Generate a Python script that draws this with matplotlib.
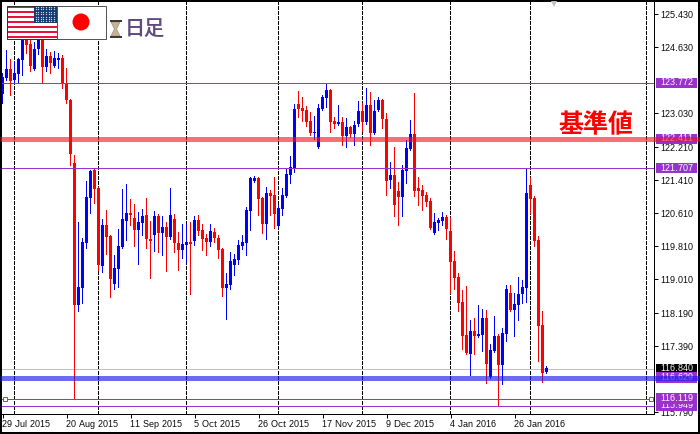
import numpy as np
import matplotlib
matplotlib.use("Agg")
import matplotlib.pyplot as plt
import matplotlib.patheffects as pe
from matplotlib.patches import Rectangle, Circle, Polygon

# ---- data (USD/JPY daily candles) ----
direction = ("BBRBBBRRBB" "RBRBBRRRRB" "BBBRRBRRBB" "BBRRBBRRBR"
             "BRBRRBBRBR" "RRBRRRBBBB" "BBBBRRBRRB" "BBBBRRRRBB"
             "BBRRBRBRBB" "RBRBBRRBRR" "BBBRRRRRBB" "BRRRRRRBRB"
             "BRBBRBBRBB" "BBRRRRB")
highs = [124.01,124.57,124.35,124.30,124.37,125.10,125.00,125.05,124.76,125.05,
         124.93,124.59,124.52,124.54,124.50,124.45,124.13,123.38,122.02,120.40,
         120.01,121.39,121.65,121.68,121.25,120.47,120.69,120.08,119.60,120.23,
         121.20,121.32,120.96,120.83,120.64,120.71,120.98,120.42,120.67,120.59,
         120.54,120.40,121.22,120.59,120.16,120.35,120.35,120.40,120.54,120.57,
         120.35,120.11,120.35,120.25,120.08,119.77,119.16,119.67,119.62,119.96,
         120.08,120.76,121.49,121.51,121.49,121.00,121.25,121.17,121.49,120.81,
         121.22,121.71,122.00,123.26,123.57,123.43,123.21,123.07,122.97,123.26,
         123.48,123.74,123.62,122.94,123.23,122.94,122.92,122.73,122.85,123.33,
         123.28,123.65,123.55,123.36,123.43,123.38,123.04,121.85,122.22,121.37,
         121.78,122.39,122.87,123.53,121.49,121.30,121.13,120.98,120.62,120.50,
         120.64,120.57,120.52,119.70,119.16,118.75,118.85,118.02,118.07,118.39,
         118.29,118.27,117.44,118.12,117.68,117.83,118.87,118.87,118.68,119.07,
         118.99,121.71,121.49,121.03,120.06,118.24,116.91]
body_top = [123.91,124.11,124.11,124.01,124.35,125.05,124.96,124.71,124.59,124.93,
            124.86,124.42,124.42,124.37,124.37,124.37,123.77,123.36,121.83,118.82,
            119.91,121.00,121.63,121.66,121.22,120.33,120.33,120.06,119.28,119.82,
            120.47,120.62,120.62,120.50,120.40,120.54,120.57,119.99,120.54,120.54,
            120.28,120.28,120.57,120.47,119.89,119.87,119.91,119.91,120.45,120.45,
            120.20,120.01,120.18,120.16,120.01,119.74,118.90,119.45,119.50,119.84,
            119.91,120.69,121.47,121.47,121.47,120.98,121.10,121.10,121.05,120.74,
            121.05,121.56,121.73,123.14,123.26,123.16,123.11,122.85,122.58,123.16,
            123.43,123.60,123.60,122.85,122.82,122.82,122.70,122.70,122.75,123.09,
            123.09,123.23,123.23,123.09,123.36,123.36,122.90,121.54,121.54,121.15,
            121.66,122.19,122.53,122.53,121.22,121.17,121.05,120.91,120.40,120.45,
            120.52,120.52,120.18,119.45,119.07,118.46,117.66,117.76,117.76,117.68,
            118.07,118.07,117.30,117.63,117.63,117.71,118.77,118.68,118.41,118.65,
            118.82,121.10,121.30,120.98,119.96,117.90,116.86]
body_bottom = [123.50,123.89,123.82,123.84,123.99,124.33,124.69,124.18,124.11,124.59,
               124.16,124.16,124.25,124.18,124.33,123.77,123.36,122.05,118.39,118.39,
               118.80,119.89,120.98,121.20,119.36,119.33,120.04,119.02,118.90,119.26,
               119.79,120.42,120.57,120.20,120.20,120.37,119.99,119.94,120.08,120.13,
               120.13,120.04,120.04,119.89,119.72,119.72,119.84,119.87,119.94,120.18,
               119.99,119.91,119.91,120.01,119.72,118.80,118.80,118.87,119.36,119.48,
               119.82,119.89,120.67,121.39,120.96,120.35,120.35,121.03,120.59,120.30,
               120.71,121.03,121.54,121.71,123.14,123.09,122.82,122.56,122.56,122.22,
               123.14,123.40,122.82,122.77,122.77,122.48,122.48,122.53,122.53,122.77,
               122.82,122.82,122.56,122.56,123.11,122.90,121.39,121.42,120.81,121.00,
               121.00,121.63,122.17,121.15,121.15,121.03,120.88,120.25,120.13,120.37,
               120.42,120.23,119.43,119.04,118.44,117.63,117.22,117.20,117.63,117.63,
               117.66,116.96,116.64,117.27,116.93,116.93,117.68,118.27,118.27,118.39,
               118.65,118.80,120.96,119.94,117.88,116.74,116.76]
lows = [123.28,123.84,123.48,123.79,123.77,123.96,124.50,124.06,124.08,124.47,
        123.77,124.06,124.01,124.16,124.13,123.65,123.28,121.78,116.13,118.24,
        118.44,119.77,120.62,120.86,119.24,119.19,119.62,118.58,118.77,118.82,
        119.77,119.96,120.33,119.82,119.38,120.08,119.77,119.04,119.70,119.67,
        119.60,119.21,119.99,119.67,119.24,119.53,119.43,118.65,119.84,120.08,
        119.72,119.60,119.82,119.91,119.53,118.60,118.05,118.77,119.11,119.38,
        119.74,119.60,120.20,121.37,120.57,120.13,119.99,120.57,120.25,120.28,
        120.57,121.00,121.34,121.61,122.94,122.85,122.73,122.51,122.41,122.19,
        123.12,123.19,122.58,122.68,122.75,122.27,122.22,122.46,122.27,122.73,
        122.60,122.77,122.27,122.53,123.09,122.68,121.05,121.22,120.54,120.33,
        120.54,121.34,122.15,121.03,120.81,120.69,120.79,120.23,120.11,120.20,
        120.33,119.99,118.68,118.77,118.24,117.32,117.20,116.69,117.20,117.61,
        117.27,116.50,116.62,117.25,115.96,116.47,117.51,118.24,117.63,118.02,
        118.44,118.46,120.62,119.82,117.03,116.52,116.75]

date_ticks = [0, 16, 32, 48, 64, 80, 96, 112, 128]
date_labels = ["29 Jul 2015", "20 Aug 2015", "11 Sep 2015", "5 Oct 2015", "26 Oct 2015",
               "17 Nov 2015", "9 Dec 2015", "4 Jan 2016", "26 Jan 2016"]
period_separators = [3, 24, 46, 69, 90, 112, 132, 161]
price_ticks = [125.43, 124.63, 123.03, 122.21, 121.41, 120.61, 119.81, 119.01, 118.19, 117.39, 115.79]
level_purple = [123.772, 121.707, 116.119, 115.949]
level_base = 122.411
level_support = 116.629
last_price = 116.84
boxed_labels = [115.949, 116.119, 116.629, 121.707, 122.411, 123.772]

# ---- styles ----
W, H = 700, 434
PX = 0.72
NUDGE = 0.12   # aliased 1 px lines land on the pixel centre of the candle body
BLUE, RED, PURPLE = "#0000ff", "#ff0000", "#9932cc"
FONT = "Liberation Sans"
FS = 6.8
plt.rcParams["font.family"] = [FONT, "DejaVu Sans"]
plt.rcParams["text.hinting"] = "native"
plt.rcParams["text.hinting_factor"] = 1

fig = plt.figure(figsize=(W / 100, H / 100), dpi=100, facecolor="black")
bg = fig.add_axes([2 / W, 2 / H, 696 / W, 430 / H], zorder=0)
bg.set_facecolor("white")
bg.set_xticks([]); bg.set_yticks([])
for s in bg.spines.values():
    s.set_visible(False)

ax = fig.add_axes([2 / W, 20 / H, 652 / W, 412 / H], zorder=1)
ax.patch.set_alpha(0)
ax.set_xlim(-0.125, 162.875)
ax.set_ylim(115.745, 125.7315)
for s in ("left", "top"):
    ax.spines[s].set_visible(False)
for s in ("right", "bottom"):
    ax.spines[s].set_linewidth(PX)

idx = np.arange(len(highs))
colors = [BLUE if d == "B" else RED for d in direction]
top = np.array(body_top)
bot = np.array(body_bottom)

for x in period_separators:
    ax.axvline(x - NUDGE, color="black", lw=PX, ls=(0, (3.5, 2)), zorder=1, antialiased=False)
ax.vlines(idx - NUDGE, lows, highs, colors=colors, lw=PX, zorder=2, antialiased=False)
ax.bar(idx, top - bot, bottom=bot, width=0.75, color=colors, edgecolor="none", linewidth=0,
       zorder=3, antialiased=False)

for p in level_purple:
    ax.axhline(p, color=PURPLE, lw=PX, zorder=4, antialiased=False)
ax.axhline(last_price, color="#c0c0c0", lw=PX, zorder=1.5, antialiased=False)
ax.plot([0.5, 162], [116.119, 116.119], ls="none", marker="s", ms=3.4, mfc="white",
        mec=PURPLE, mew=0.7, zorder=5)

# right-hand price scale
ax.yaxis.tick_right()
ax.set_yticks(price_ticks, [f"{p:.3f}" for p in price_ticks], fontsize=FS, family=FONT)
ax.tick_params(axis="y", length=2.9, width=PX, pad=1.9)
ax.set_xticks(date_ticks, date_labels, fontsize=FS, family=FONT)
ax.tick_params(axis="x", length=2.9, width=PX, pad=1.2)
for t in ax.get_xticklabels():
    t.set_ha("left")

ytr = ax.get_yaxis_transform()
bx0, bw = (656 - 2) / 652, 41 / 652
tx = (660.7 - 2) / 652
bh = 10.6 * 0.02424
z = 6.0
for p, fc in [(last_price, "black")] + [(b, PURPLE) for b in boxed_labels]:
    ax.add_patch(Rectangle((bx0, p - bh / 2), bw, bh, transform=ytr, fc=fc, ec="none",
                           clip_on=False, zorder=z))
    ax.text(tx, p, f"{p:.3f}", transform=ytr, color="white", fontsize=FS, va="center",
            ha="left", clip_on=False, zorder=z + 0.05)
    z += 0.1

# full-width translucent bands
xa, xb = -2 / 652, 698 / 652
ax.plot([xa, xb], [level_base] * 2, transform=ytr, color="#f01020", alpha=0.6, lw=5 * PX,
        clip_on=False, solid_capstyle="butt", zorder=8)
ax.plot([xa, xb], [level_support] * 2, transform=ytr, color="#1a1aee", alpha=0.65, lw=5 * PX,
        clip_on=False, solid_capstyle="butt", zorder=8)

# overlay decorations in pixel coordinates
ov = fig.add_axes([0, 0, 1, 1], zorder=5)
ov.set_xlim(0, W); ov.set_ylim(H, 0)
ov.axis("off"); ov.patch.set_alpha(0)

# US flag (mirrored, canton to the right)
n_stripes = 13
fx0, fx1, fy0, fy1 = 6.5, 56.5, 5.5, 38.5
sh = (fy1 - fy0) / n_stripes
ov.add_patch(Rectangle((fx0, fy0), fx1 - fx0, fy1 - fy0, fc="white", ec="none"))
for k in range(0, n_stripes, 2):
    ov.add_patch(Rectangle((fx0, fy0 + k * sh), fx1 - fx0, sh, fc="#e4143c", ec="none"))
ov.add_patch(Rectangle((34, fy0), fx1 - 34, 7 * sh, fc="#123a6e", ec="none"))
sx, sy = np.meshgrid(np.arange(35.5, 56, 2.6), np.arange(7, 23, 2.4))
ov.scatter(sx.ravel(), sy.ravel(), s=0.9, c="#c8d8ee", linewidths=0)
ov.add_patch(Rectangle((fx0, fy0), fx1 - fx0, fy1 - fy0, fc="none", ec="#30303a", lw=PX))
# Japanese flag
ov.add_patch(Rectangle((56.5, 5.5), 49, 33, fc="white", ec="#555555", lw=PX))
ov.add_patch(Circle((81, 22), 8.5, fc="#ff0000", ec="none"))
# hourglass
ov.add_patch(Polygon([(111, 22), (120, 22), (116.5, 29), (120, 36), (111, 36), (114.5, 29)],
                     fc="#c9b48c", ec="#9a9a92", lw=0.6))
ov.add_patch(Rectangle((109.5, 20), 12, 2.2, fc="#3c3a36", ec="none"))
ov.add_patch(Rectangle((109.5, 35.5), 12, 2.4, fc="#3c3a36", ec="none"))

cjk = ["Noto Sans CJK JP", "DejaVu Sans"]
ov.text(145, 28.5, "日足", family=cjk, fontsize=14.5, color="#5f4b80", ha="center", va="center",
        fontweight="medium")
ov.text(595.5, 125, "基準値", family=cjk, fontsize=18, color="#ff0000", ha="center", va="center",
        fontweight="bold")
ov.plot([554], [3.5], marker="v", ms=5, color="#c0c0c0", mew=0)

fig.savefig("out.png", dpi=100, facecolor="black")
